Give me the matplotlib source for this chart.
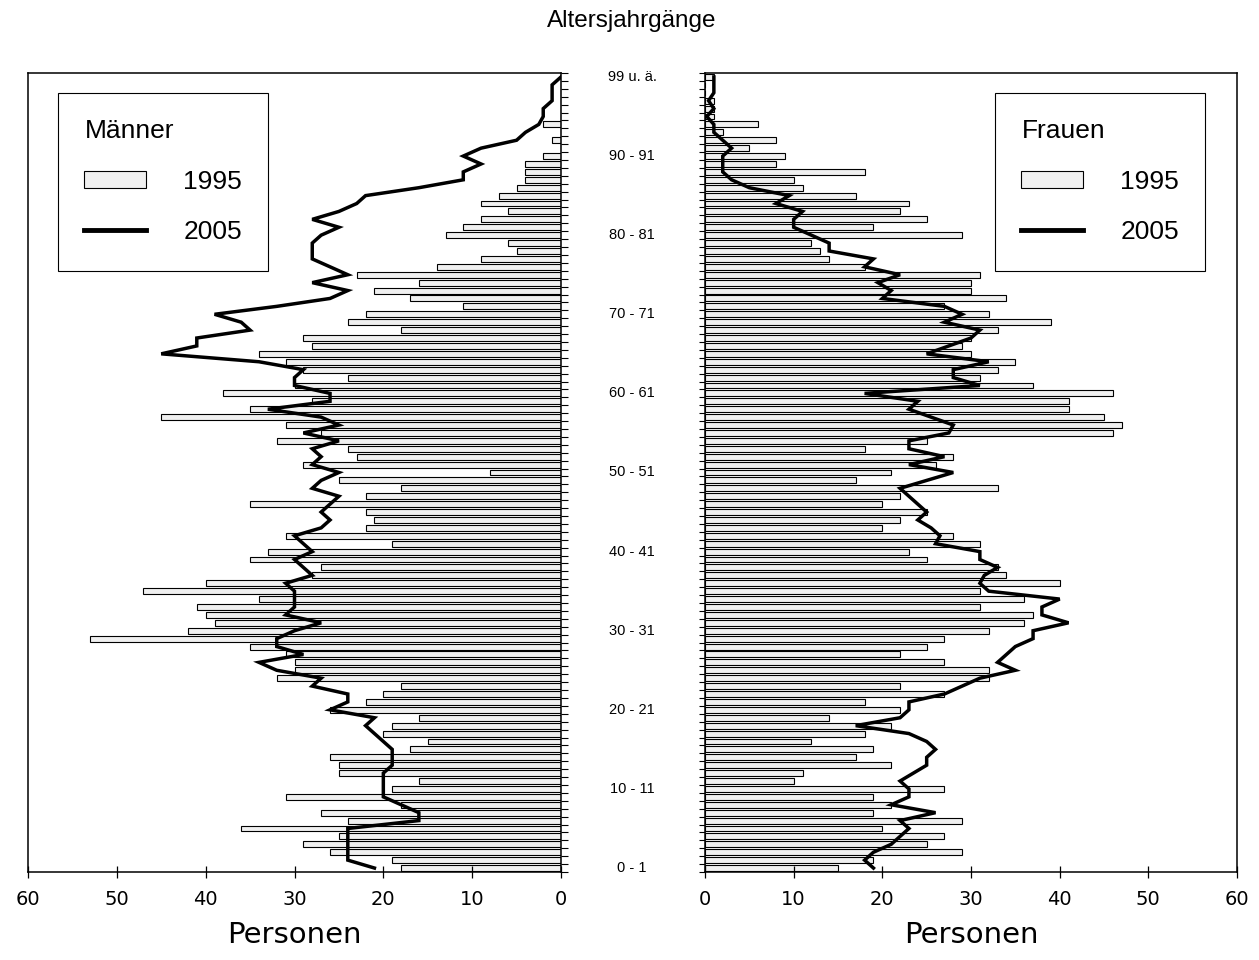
import numpy as np
import matplotlib.pyplot as plt
from matplotlib.patches import Patch
from matplotlib.lines import Line2D
from matplotlib.transforms import blended_transform_factory

# age groups 0 .. 100 (top group labelled "99 u. ä.")
ages = np.arange(101)

# Männer 1995 (bars)
m1995 = [18, 19, 26, 29, 25, 36, 24, 27, 18, 31,
         19, 16, 25, 25, 26, 17, 15, 20, 19, 16,
         26, 22, 20, 18, 32, 30, 30, 31, 35, 53,
         42, 39, 40, 41, 34, 47, 40, 28, 27, 35,
         33, 19, 31, 22, 21, 22, 35, 22, 18, 25,
         8, 29, 23, 24, 32, 27, 31, 45, 35, 28,
         38, 30, 24, 29, 31, 34, 28, 29, 18, 24,
         22, 11, 17, 21, 16, 23, 14, 9, 5, 6,
         13, 11, 9, 6, 9, 7, 5, 4, 4, 4,
         2, 0, 1, 0, 2, 0, 0, 0, 0, 0, 0]

# Männer 2005 (line)
m2005 = [21, 24, 24, 24, 24, 24, 16, 16, 18, 20,
         20, 20, 20, 19, 19, 19, 20, 21, 22, 21,
         26, 24, 24, 28, 27, 32, 34, 29, 32, 32,
         30, 27, 31, 30, 30, 30, 31, 28, 29, 30,
         28, 29, 30, 27, 26, 27, 26, 25, 28, 27,
         25, 28, 27, 28, 25, 29, 25, 27, 33, 26,
         26, 30, 30, 29, 34, 45, 41, 41, 35, 36,
         39, 32, 26, 24, 28, 24, 26, 28, 28, 28,
         27, 25, 28, 25, 23, 22, 16, 11, 11, 9,
         11, 9, 5, 4, 2.5, 2, 2, 1, 1, 1, 0]

# Frauen 1995 (bars)
f1995 = [15, 19, 29, 25, 27, 20, 29, 19, 21, 19,
         27, 10, 11, 21, 17, 19, 12, 18, 21, 14,
         22, 18, 27, 22, 32, 32, 27, 22, 25, 27,
         32, 36, 37, 31, 36, 31, 40, 34, 33, 25,
         23, 31, 28, 20, 22, 25, 20, 22, 33, 17,
         21, 26, 28, 18, 25, 46, 47, 45, 41, 41,
         46, 37, 31, 33, 35, 30, 29, 30, 33, 39,
         32, 27, 34, 30, 30, 31, 18, 14, 13, 12,
         29, 19, 25, 22, 23, 17, 11, 10, 18, 8,
         9, 5, 8, 2, 6, 1, 1, 1, 0, 0, 1]

# Frauen 2005 (line)
f2005 = [19, 18, 19, 21, 22, 23, 22, 26, 21, 23,
         23, 22, 23.5, 25, 25, 26, 25, 23, 17, 22,
         23, 23, 27, 29, 31, 35, 33, 34, 35, 37,
         37, 41, 38, 38, 40, 32, 31, 31.5, 33, 31,
         31, 26, 26.5, 25.5, 24, 25, 24, 23, 22, 25,
         28, 23, 27, 23, 23, 27.5, 28, 25.5, 23, 24,
         18, 31, 28, 28, 32, 25, 27.5, 30, 31, 27,
         29, 27, 20, 21, 19.5, 22, 18, 19, 14, 14,
         12, 10, 10, 11, 8, 9.5, 5, 3, 2, 2,
         2, 3, 2, 1, 1, 0.2, 1, 0.4, 1, 1, 1]

label_pos = [0, 10, 20, 30, 40, 50, 60, 70, 80, 90, 100]
label_txt = ["0 - 1", "10 - 11", "20 - 21", "30 - 31", "40 - 41", "50 - 51",
             "60 - 61", "70 - 71", "80 - 81", "90 - 91", "99 u. ä."]

fig = plt.figure(figsize=(12.59, 9.6), dpi=100)
axL = fig.add_axes([28 / 1259, 88 / 960, 533 / 1259, 799 / 960])
axR = fig.add_axes([705 / 1259, 88 / 960, 532 / 1259, 799 / 960])

bar_kw = dict(height=0.75, color="#f0f0f0", edgecolor="black", linewidth=0.8)
axL.barh(ages, m1995, **bar_kw)
axL.plot(m2005, ages, color="black", lw=2.5, solid_joinstyle="miter")
axR.barh(ages, f1995, **bar_kw)
axR.plot(f2005, ages, color="black", lw=2.5, solid_joinstyle="miter")

axL.set_xlim(60, 0)
axR.set_xlim(0, 60)
for ax in (axL, axR):
    ax.set_ylim(-0.5, 100.5)
    ax.set_xticks(np.arange(0, 61, 10))
    ax.tick_params(axis="x", direction="inout", length=8.5, width=0.9,
                   pad=9, labelsize=14)
    ax.set_yticks(np.arange(-0.5, 101, 1))
    ax.set_yticklabels([])
    for sp in ax.spines.values():
        sp.set_linewidth(1.1)
    ax.set_xlabel("Personen", fontsize=21, labelpad=8)

axL.yaxis.tick_right()
axL.tick_params(axis="y", direction="out", length=5, width=0.8)
axR.tick_params(axis="y", direction="out", length=4, width=0.8)

# age labels between the two panels
tr = blended_transform_factory(fig.transFigure, axL.transData)
for p, t in zip(label_pos, label_txt):
    axL.text(632 / 1259, p, t, transform=tr, ha="center", va="center",
             fontsize=10.5, family="Liberation Sans")

fig.text(632 / 1259, 1 - 21 / 960, "Altersjahrgänge", ha="center", va="center",
         fontsize=17.5, family="Liberation Sans")

leg_font = {"family": "Liberation Sans", "size": 19}
handles = [Patch(facecolor="#f0f0f0", edgecolor="black", linewidth=0.8),
           Line2D([], [], color="black", lw=3.5)]
for ax, title, x0 in ((axL, "Männer", 30 / 533), (axR, "Frauen", 290 / 532)):
    leg = ax.legend(handles, ["1995", "2005"], title=title, loc="upper left",
                    bbox_to_anchor=(x0, 1 - 20 / 799), borderaxespad=0,
                    prop=leg_font, title_fontproperties=leg_font,
                    alignment="left", frameon=True, fancybox=False,
                    edgecolor="black", framealpha=1, handlelength=2.35,
                    handleheight=0.65, handletextpad=1.4, labelspacing=1.0,
                    borderpad=1.0)
    leg.get_frame().set_linewidth(0.8)

fig.savefig("out.png", dpi=100)
